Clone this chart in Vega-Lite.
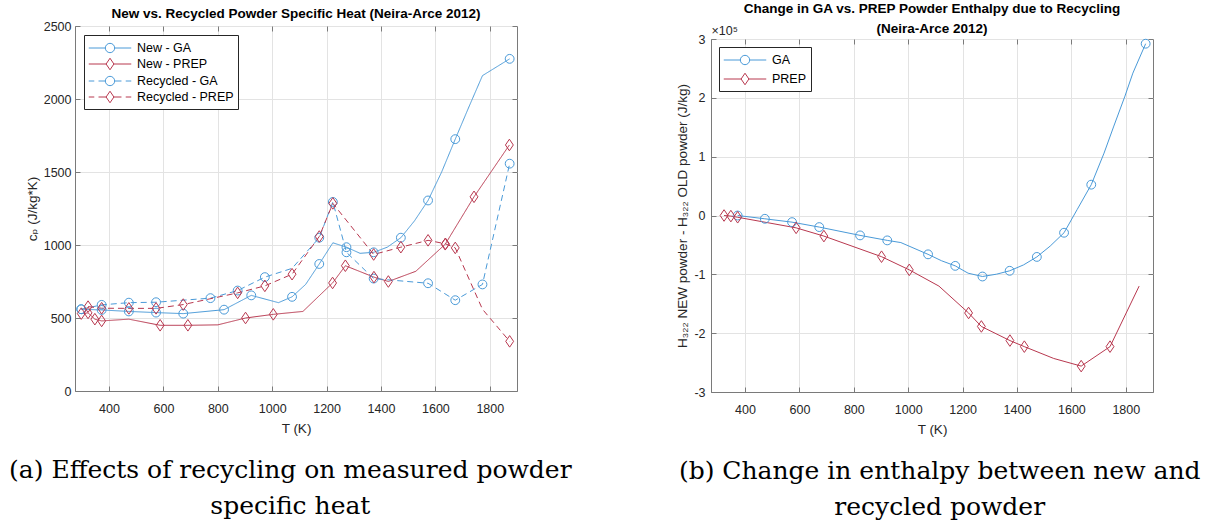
{
  "$schema": "https://vega.github.io/schema/vega-lite/v6.json",
  "background": "white",
  "padding": {"left": 9, "top": 1, "right": 5, "bottom": 5},
  "spacing": 103,
  "resolve": {
    "scale": {"color": "independent", "stroke": "independent", "shape": "independent", "strokeDash": "independent"},
    "legend": {"color": "independent", "stroke": "independent", "shape": "independent", "strokeDash": "independent"}
  },
  "config": {
    "font": "Liberation Sans",
    "view": {"stroke": "#7a7a7a", "strokeWidth": 1},
    "axis": {
      "labelFont": "Liberation Sans", "labelFontSize": 12.5, "labelColor": "#262626", "format": "d",
      "titleFont": "Liberation Sans", "titleFontSize": 13.5, "titleFontWeight": "normal", "titleColor": "#262626",
      "domainColor": "#7a7a7a", "tickColor": "#7a7a7a", "tickSize": -5, "labelPadding": 9,
      "gridColor": "#e3e3e3", "grid": true, "labelFlush": false
    },
    "axisX": {"labelPadding": 16, "titlePadding": 7},
    "title": {"font": "Liberation Sans", "fontSize": 13.5, "fontWeight": "bold", "color": "#000000", "frame": "group", "anchor": "middle"},
    "legend": {
      "orient": "top-left", "offset": 9, "padding": 4, "strokeColor": "#262626", "fillColor": "white",
      "labelFont": "Liberation Sans", "labelFontSize": 12.5, "labelColor": "#000000",
      "symbolSize": 289, "symbolStrokeWidth": 1, "symbolOffset": 13, "labelOffset": 18, "rowPadding": 0,
      "symbolOpacity": 1, "symbolFillColor": "transparent"
    }
  },
  "datasets": {
    "cp": [
      {"T": 298, "cp": 560, "series": "New - GA", "m": 1},
      {"T": 373, "cp": 555, "series": "New - GA", "m": 1},
      {"T": 473, "cp": 545, "series": "New - GA", "m": 1},
      {"T": 573, "cp": 537, "series": "New - GA", "m": 1},
      {"T": 673, "cp": 530, "series": "New - GA", "m": 1},
      {"T": 823, "cp": 557, "series": "New - GA", "m": 1},
      {"T": 923, "cp": 655, "series": "New - GA", "m": 1},
      {"T": 1023, "cp": 605, "series": "New - GA", "m": 0},
      {"T": 1073, "cp": 645, "series": "New - GA", "m": 1},
      {"T": 1123, "cp": 730, "series": "New - GA", "m": 0},
      {"T": 1173, "cp": 870, "series": "New - GA", "m": 1},
      {"T": 1223, "cp": 1015, "series": "New - GA", "m": 0},
      {"T": 1273, "cp": 985, "series": "New - GA", "m": 1},
      {"T": 1323, "cp": 943, "series": "New - GA", "m": 0},
      {"T": 1373, "cp": 950, "series": "New - GA", "m": 1},
      {"T": 1423, "cp": 985, "series": "New - GA", "m": 0},
      {"T": 1473, "cp": 1050, "series": "New - GA", "m": 1},
      {"T": 1523, "cp": 1165, "series": "New - GA", "m": 0},
      {"T": 1573, "cp": 1305, "series": "New - GA", "m": 1},
      {"T": 1623, "cp": 1500, "series": "New - GA", "m": 0},
      {"T": 1673, "cp": 1725, "series": "New - GA", "m": 1},
      {"T": 1723, "cp": 1945, "series": "New - GA", "m": 0},
      {"T": 1773, "cp": 2160, "series": "New - GA", "m": 0},
      {"T": 1873, "cp": 2275, "series": "New - GA", "m": 1},
      {"T": 298, "cp": 530, "series": "New - PREP", "m": 1},
      {"T": 323, "cp": 535, "series": "New - PREP", "m": 1},
      {"T": 348, "cp": 492, "series": "New - PREP", "m": 1},
      {"T": 373, "cp": 480, "series": "New - PREP", "m": 1},
      {"T": 473, "cp": 492, "series": "New - PREP", "m": 0},
      {"T": 588, "cp": 450, "series": "New - PREP", "m": 1},
      {"T": 690, "cp": 450, "series": "New - PREP", "m": 1},
      {"T": 800, "cp": 453, "series": "New - PREP", "m": 0},
      {"T": 902, "cp": 500, "series": "New - PREP", "m": 1},
      {"T": 1004, "cp": 525, "series": "New - PREP", "m": 1},
      {"T": 1113, "cp": 545, "series": "New - PREP", "m": 0},
      {"T": 1222, "cp": 740, "series": "New - PREP", "m": 1},
      {"T": 1269, "cp": 858, "series": "New - PREP", "m": 1},
      {"T": 1374, "cp": 780, "series": "New - PREP", "m": 1},
      {"T": 1427, "cp": 750, "series": "New - PREP", "m": 1},
      {"T": 1528, "cp": 820, "series": "New - PREP", "m": 0},
      {"T": 1636, "cp": 1005, "series": "New - PREP", "m": 1},
      {"T": 1742, "cp": 1330, "series": "New - PREP", "m": 1},
      {"T": 1872, "cp": 1685, "series": "New - PREP", "m": 1},
      {"T": 298, "cp": 560, "series": "Recycled - GA", "m": 1},
      {"T": 373, "cp": 590, "series": "Recycled - GA", "m": 1},
      {"T": 473, "cp": 605, "series": "Recycled - GA", "m": 1},
      {"T": 573, "cp": 608, "series": "Recycled - GA", "m": 1},
      {"T": 773, "cp": 636, "series": "Recycled - GA", "m": 1},
      {"T": 873, "cp": 688, "series": "Recycled - GA", "m": 1},
      {"T": 973, "cp": 780, "series": "Recycled - GA", "m": 1},
      {"T": 1073, "cp": 840, "series": "Recycled - GA", "m": 0},
      {"T": 1173, "cp": 1050, "series": "Recycled - GA", "m": 1},
      {"T": 1223, "cp": 1295, "series": "Recycled - GA", "m": 1},
      {"T": 1273, "cp": 950, "series": "Recycled - GA", "m": 1},
      {"T": 1373, "cp": 770, "series": "Recycled - GA", "m": 1},
      {"T": 1573, "cp": 738, "series": "Recycled - GA", "m": 1},
      {"T": 1673, "cp": 622, "series": "Recycled - GA", "m": 1},
      {"T": 1773, "cp": 730, "series": "Recycled - GA", "m": 1},
      {"T": 1873, "cp": 1557, "series": "Recycled - GA", "m": 1},
      {"T": 323, "cp": 578, "series": "Recycled - PREP", "m": 1},
      {"T": 373, "cp": 567, "series": "Recycled - PREP", "m": 1},
      {"T": 473, "cp": 566, "series": "Recycled - PREP", "m": 1},
      {"T": 573, "cp": 566, "series": "Recycled - PREP", "m": 1},
      {"T": 673, "cp": 592, "series": "Recycled - PREP", "m": 1},
      {"T": 873, "cp": 672, "series": "Recycled - PREP", "m": 1},
      {"T": 973, "cp": 720, "series": "Recycled - PREP", "m": 1},
      {"T": 1073, "cp": 800, "series": "Recycled - PREP", "m": 1},
      {"T": 1173, "cp": 1058, "series": "Recycled - PREP", "m": 1},
      {"T": 1223, "cp": 1285, "series": "Recycled - PREP", "m": 1},
      {"T": 1373, "cp": 935, "series": "Recycled - PREP", "m": 1},
      {"T": 1473, "cp": 985, "series": "Recycled - PREP", "m": 1},
      {"T": 1573, "cp": 1032, "series": "Recycled - PREP", "m": 1},
      {"T": 1637, "cp": 1008, "series": "Recycled - PREP", "m": 1},
      {"T": 1673, "cp": 980, "series": "Recycled - PREP", "m": 1},
      {"T": 1773, "cp": 560, "series": "Recycled - PREP", "m": 0},
      {"T": 1873, "cp": 340, "series": "Recycled - PREP", "m": 1}
    ],
    "dh": [
      {"T": 373, "dH": 0, "series": "GA", "m": 1},
      {"T": 473, "dH": -5600, "series": "GA", "m": 1},
      {"T": 573, "dH": -11300, "series": "GA", "m": 1},
      {"T": 673, "dH": -19700, "series": "GA", "m": 1},
      {"T": 823, "dH": -33800, "series": "GA", "m": 1},
      {"T": 923, "dH": -42300, "series": "GA", "m": 1},
      {"T": 973, "dH": -46000, "series": "GA", "m": 0},
      {"T": 1073, "dH": -66000, "series": "GA", "m": 1},
      {"T": 1123, "dH": -77000, "series": "GA", "m": 0},
      {"T": 1173, "dH": -85600, "series": "GA", "m": 1},
      {"T": 1220, "dH": -98000, "series": "GA", "m": 0},
      {"T": 1273, "dH": -103700, "series": "GA", "m": 1},
      {"T": 1325, "dH": -99700, "series": "GA", "m": 0},
      {"T": 1373, "dH": -94000, "series": "GA", "m": 1},
      {"T": 1424, "dH": -84000, "series": "GA", "m": 0},
      {"T": 1473, "dH": -70400, "series": "GA", "m": 1},
      {"T": 1522, "dH": -52000, "series": "GA", "m": 0},
      {"T": 1573, "dH": -29300, "series": "GA", "m": 1},
      {"T": 1621, "dH": 10000, "series": "GA", "m": 0},
      {"T": 1673, "dH": 52400, "series": "GA", "m": 1},
      {"T": 1720, "dH": 106000, "series": "GA", "m": 0},
      {"T": 1756, "dH": 152000, "series": "GA", "m": 0},
      {"T": 1797, "dH": 203000, "series": "GA", "m": 0},
      {"T": 1826, "dH": 242000, "series": "GA", "m": 0},
      {"T": 1873, "dH": 292000, "series": "GA", "m": 1},
      {"T": 323, "dH": 0, "series": "PREP", "m": 1},
      {"T": 348, "dH": -1000, "series": "PREP", "m": 1},
      {"T": 373, "dH": -3000, "series": "PREP", "m": 1},
      {"T": 588, "dH": -21000, "series": "PREP", "m": 1},
      {"T": 690, "dH": -35000, "series": "PREP", "m": 1},
      {"T": 902, "dH": -70000, "series": "PREP", "m": 1},
      {"T": 1004, "dH": -92400, "series": "PREP", "m": 1},
      {"T": 1113, "dH": -120000, "series": "PREP", "m": 0},
      {"T": 1222, "dH": -165700, "series": "PREP", "m": 1},
      {"T": 1269, "dH": -188600, "series": "PREP", "m": 1},
      {"T": 1374, "dH": -212600, "series": "PREP", "m": 1},
      {"T": 1427, "dH": -222900, "series": "PREP", "m": 1},
      {"T": 1535, "dH": -243000, "series": "PREP", "m": 0},
      {"T": 1636, "dH": -256000, "series": "PREP", "m": 1},
      {"T": 1742, "dH": -222900, "series": "PREP", "m": 1},
      {"T": 1849, "dH": -120000, "series": "PREP", "m": 0}
    ]
  },
  "hconcat": [
    {
      "title": {"text": ["(a) Effects of recycling on measured powder", "specific heat"], "orient": "bottom", "font": "DejaVu Serif", "fontSize": 25, "fontWeight": "normal", "lineHeight": 36, "frame": "bounds", "dx": 19, "offset": 22, "color": "#000000"},
      "resolve": {
        "scale": {"color": "independent", "stroke": "independent", "shape": "independent", "strokeDash": "independent"},
        "legend": {"color": "independent", "stroke": "independent", "shape": "independent", "strokeDash": "independent"}
      },
      "vconcat": [
        {
          "width": 442, "height": 365,
          "title": {"text": "New vs. Recycled Powder Specific Heat (Neira-Arce 2012)", "offset": 0},
          "data": {"name": "cp"},
          "resolve": {"axis": {"x": "independent", "y": "independent"}},
          "encoding": {
            "x": {"field": "T", "type": "quantitative", "scale": {"domain": [275, 1900], "nice": false, "zero": false}, "axis": {"values": [400, 600, 800, 1000, 1200, 1400, 1600, 1800], "title": "T (K)"}},
            "y": {"field": "cp", "type": "quantitative", "scale": {"domain": [0, 2500], "nice": false}, "axis": {"values": [0, 500, 1000, 1500, 2000, 2500], "title": "cₚ (J/kg*K)", "titleFont": "Liberation Sans, DejaVu Sans"}}
          },
          "layer": [
            {
              "mark": {"type": "line", "strokeWidth": 1, "clip": false},
              "encoding": {
                "color": {"field": "series", "type": "nominal", "scale": {"range": ["#4a9ad8", "#b8384f", "#4a9ad8", "#b8384f"]}, "legend": null},
                "strokeDash": {"field": "series", "type": "nominal", "scale": {"range": [[1, 0], [1, 0], [6, 4], [6, 4]]}, "legend": null}
              }
            },
            {
              "transform": [{"filter": "datum.m == 1 && (datum.series == 'New - GA' || datum.series == 'Recycled - GA')"}],
              "mark": {"type": "point", "shape": "circle", "size": 78, "filled": false, "strokeWidth": 1, "opacity": 1},
              "encoding": {
                "x": {"field": "T", "type": "quantitative", "axis": null},
                "y": {"field": "cp", "type": "quantitative", "axis": null},
                "color": {"field": "series", "type": "nominal", "legend": null}
              }
            },
            {
              "transform": [{"filter": "datum.m == 1 && (datum.series == 'New - PREP' || datum.series == 'Recycled - PREP')"}],
              "mark": {"type": "point", "shape": "M0,-1L0.68,0L0,1L-0.68,0Z", "size": 134, "filled": false, "strokeWidth": 1, "opacity": 1},
              "encoding": {
                "x": {"field": "T", "type": "quantitative", "axis": null},
                "y": {"field": "cp", "type": "quantitative", "axis": null},
                "color": {"field": "series", "type": "nominal", "legend": null}
              }
            },
            {
              "mark": {"type": "point", "filled": false, "opacity": 0},
              "encoding": {
                "x": {"field": "T", "type": "quantitative", "axis": {"orient": "top", "values": [400, 600, 800, 1000, 1200, 1400, 1600, 1800], "labels": false, "grid": false, "domain": false, "title": null}},
                "y": {"field": "cp", "type": "quantitative", "axis": {"orient": "right", "values": [0, 500, 1000, 1500, 2000, 2500], "labels": false, "grid": false, "domain": false, "title": null}},
                "stroke": {"field": "series", "type": "nominal", "scale": {"domain": ["New - GA", "New - PREP", "Recycled - GA", "Recycled - PREP"], "range": ["#4a9ad8", "#b8384f", "#4a9ad8", "#b8384f"]}, "legend": {"title": null}},
                "shape": {"field": "series", "type": "nominal", "scale": {"domain": ["New - GA", "New - PREP", "Recycled - GA", "Recycled - PREP"], "range": [
                  "M-2.5,0L-0.55,0M0.55,0L2.5,0M0.55,0A0.55,0.55,0,1,1,-0.55,0A0.55,0.55,0,1,1,0.55,0",
                  "M-2.5,0L-0.46,0M0.46,0L2.5,0M0,-0.68L0.46,0L0,0.68L-0.46,0Z",
                  "M-2.5,0L-1.85,0M-1.35,0L-0.55,0M0.55,0L1.35,0M1.85,0L2.5,0M0.55,0A0.55,0.55,0,1,1,-0.55,0A0.55,0.55,0,1,1,0.55,0",
                  "M-2.5,0L-1.85,0M-1.35,0L-0.46,0M0.46,0L1.35,0M1.85,0L2.5,0M0,-0.68L0.46,0L0,0.68L-0.46,0Z"
                ]}, "legend": {"title": null}}
              }
            }
          ]
        }
      ]
    },
    {
      "title": {"text": ["(b) Change in enthalpy between new and", "recycled powder"], "orient": "bottom", "font": "DejaVu Serif", "fontSize": 25, "fontWeight": "normal", "lineHeight": 36, "frame": "bounds", "dx": 25, "offset": 22, "color": "#000000"},
      "spacing": 12,
      "bounds": "flush",
      "resolve": {
        "scale": {"color": "independent", "stroke": "independent", "shape": "independent", "strokeDash": "independent"},
        "legend": {"color": "independent", "stroke": "independent", "shape": "independent", "strokeDash": "independent"}
      },
      "vconcat": [
        {
          "width": 442, "height": 1,
          "view": {"stroke": null},
          "title": {"text": ["Change in GA vs. PREP Powder Enthalpy due to Recycling", "(Neira-Arce 2012)"], "offset": -9, "lineHeight": 20},
          "data": {"values": []},
          "mark": "point"
        },
        {
          "width": 442, "height": 353,
          "data": {"name": "dh"},
          "resolve": {"axis": {"x": "independent", "y": "independent"}},
          "encoding": {
            "x": {"field": "T", "type": "quantitative", "scale": {"domain": [275, 1900], "nice": false, "zero": false}, "axis": {"values": [400, 600, 800, 1000, 1200, 1400, 1600, 1800], "title": "T (K)"}},
            "y": {"field": "dH", "type": "quantitative", "scale": {"domain": [-300000, 300000], "nice": false}, "axis": {"values": [-300000, -200000, -100000, 0, 100000, 200000, 300000], "labelExpr": "datum.value / 100000", "labelPadding": 11, "title": "H₃₂₂ NEW powder - H₃₂₂ OLD powder (J/kg)", "titleFont": "Liberation Sans, DejaVu Sans"}}
          },
          "layer": [
            {
              "mark": {"type": "line", "strokeWidth": 1, "clip": false},
              "encoding": {
                "color": {"field": "series", "type": "nominal", "scale": {"range": ["#4a9ad8", "#b8384f"]}, "legend": null}
              }
            },
            {
              "transform": [{"filter": "datum.m == 1 && datum.series == 'GA'"}],
              "mark": {"type": "point", "shape": "circle", "size": 78, "filled": false, "strokeWidth": 1, "opacity": 1},
              "encoding": {
                "x": {"field": "T", "type": "quantitative", "axis": null},
                "y": {"field": "dH", "type": "quantitative", "axis": null},
                "color": {"field": "series", "type": "nominal", "legend": null}
              }
            },
            {
              "transform": [{"filter": "datum.m == 1 && datum.series == 'PREP'"}],
              "mark": {"type": "point", "shape": "M0,-1L0.68,0L0,1L-0.68,0Z", "size": 134, "filled": false, "strokeWidth": 1, "opacity": 1},
              "encoding": {
                "x": {"field": "T", "type": "quantitative", "axis": null},
                "y": {"field": "dH", "type": "quantitative", "axis": null},
                "color": {"field": "series", "type": "nominal", "legend": null}
              }
            },
            {
              "mark": {"type": "point", "filled": false, "opacity": 0},
              "encoding": {
                "x": {"field": "T", "type": "quantitative", "axis": {"orient": "top", "values": [400, 600, 800, 1000, 1200, 1400, 1600, 1800], "labels": false, "grid": false, "domain": false, "title": null}},
                "y": {"field": "dH", "type": "quantitative", "axis": {"orient": "right", "values": [-300000, -200000, -100000, 0, 100000, 200000, 300000], "labels": false, "grid": false, "domain": false, "title": "×10⁵", "titleFont": "Liberation Sans, DejaVu Sans", "titleFontSize": 12.5, "titleAngle": 0, "titleAlign": "left", "titleBaseline": "bottom", "titleX": -442, "titleY": -2}},
                "stroke": {"field": "series", "type": "nominal", "scale": {"domain": ["GA", "PREP"], "range": ["#4a9ad8", "#b8384f"]}, "legend": {"title": null, "offset": 8, "rowPadding": 3}},
                "shape": {"field": "series", "type": "nominal", "scale": {"domain": ["GA", "PREP"], "range": [
                  "M-2.5,0L-0.55,0M0.55,0L2.5,0M0.55,0A0.55,0.55,0,1,1,-0.55,0A0.55,0.55,0,1,1,0.55,0",
                  "M-2.5,0L-0.46,0M0.46,0L2.5,0M0,-0.68L0.46,0L0,0.68L-0.46,0Z"
                ]}, "legend": {"title": null, "offset": 8, "rowPadding": 3}}
              }
            }
          ]
        }
      ]
    }
  ]
}
